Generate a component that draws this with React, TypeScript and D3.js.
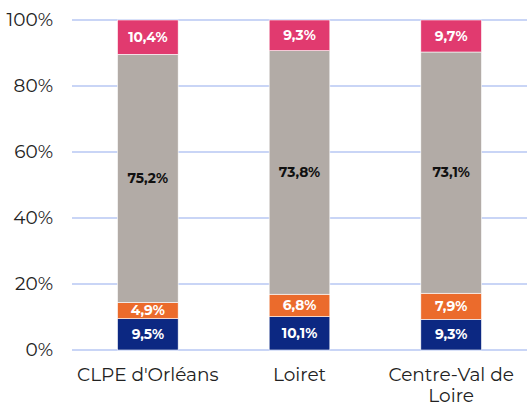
import React from "react";
import * as d3 from "d3";

const categories = ["CLPE d'Orléans", "Loiret", "Centre-Val de Loire"];
const categoryLines = [["CLPE d'Orléans"], ["Loiret"], ["Centre-Val de", "Loire"]];
const seriesNames = ["s1", "s2", "s3", "s4"];
const s1 = [9.5, 10.1, 9.3];
const s2 = [4.9, 6.8, 7.9];
const s3 = [75.2, 73.8, 73.1];
const s4 = [10.4, 9.3, 9.7];
const yTicks = [0, 20, 40, 60, 80, 100];
const colors = ["#0c2882", "#eb6b2c", "#b2aba6", "#e13a6f"];
const labelColors = ["#ffffff", "#ffffff", "#111111", "#ffffff"];

const W = 527, H = 405;
const left = 72, right = 527, top = 20, bottom = 350;
const font = "Montserrat, 'Open Sans', sans-serif";

export default function App() {
  const x = d3.scaleBand<string>().domain(categories).range([left, right]).padding(0);
  const y = d3.scaleLinear().domain([0, 100]).range([bottom, top]);
  const series = [s1, s2, s3, s4];
  const rows = categories.map((c, i) => {
    const o: any = { cat: c };
    seriesNames.forEach((n, k) => (o[n] = series[k][i]));
    return o;
  });
  const stacked = d3.stack().keys(seriesNames)(rows);
  const bw = x.bandwidth() * 0.4;
  const fmt = (v: number) => v.toFixed(1).replace(".", ",") + "%";

  return (
    <svg width={W} height={H} style={{ position: "absolute", left: 0, top: 0, background: "#fff" }}>
      {yTicks.map((t) => (
        <g key={t}>
          <line x1={left} x2={right} y1={y(t)} y2={y(t)} stroke="#c9d5f6" strokeWidth={2} />
          <text x={53} y={y(t)} dy="0.35em" textAnchor="end" fontFamily={font} fontSize={18.5} fill="#222">
            {t}%
          </text>
        </g>
      ))}
      {stacked.map((layer, k) =>
        layer.map((d, i) => {
          const cx = (x(categories[i]) as number) + x.bandwidth() / 2;
          const y0 = y(d[0]), y1 = y(d[1]);
          return (
            <g key={k + "-" + i}>
              <rect x={cx - bw / 2} y={y1} width={bw} height={y0 - y1} fill={colors[k]} stroke="#ffffff" strokeWidth={0.6} />
              <text x={cx} y={(y0 + y1) / 2} dy="0.35em" textAnchor="middle" fontFamily={font} fontSize={13.8} fontWeight="bold" fill={labelColors[k]}>
                {fmt(series[k][i])}
              </text>
            </g>
          );
        })
      )}
      {categories.map((c, i) => {
        const cx = (x(c) as number) + x.bandwidth() / 2;
        return (
          <text key={c} textAnchor="middle" fontFamily={font} fontSize={18.5} fill="#222">
            {categoryLines[i].map((l, j) => (
              <tspan key={j} x={cx} y={381 + j * 21}>{l}</tspan>
            ))}
          </text>
        );
      })}
    </svg>
  );
}
